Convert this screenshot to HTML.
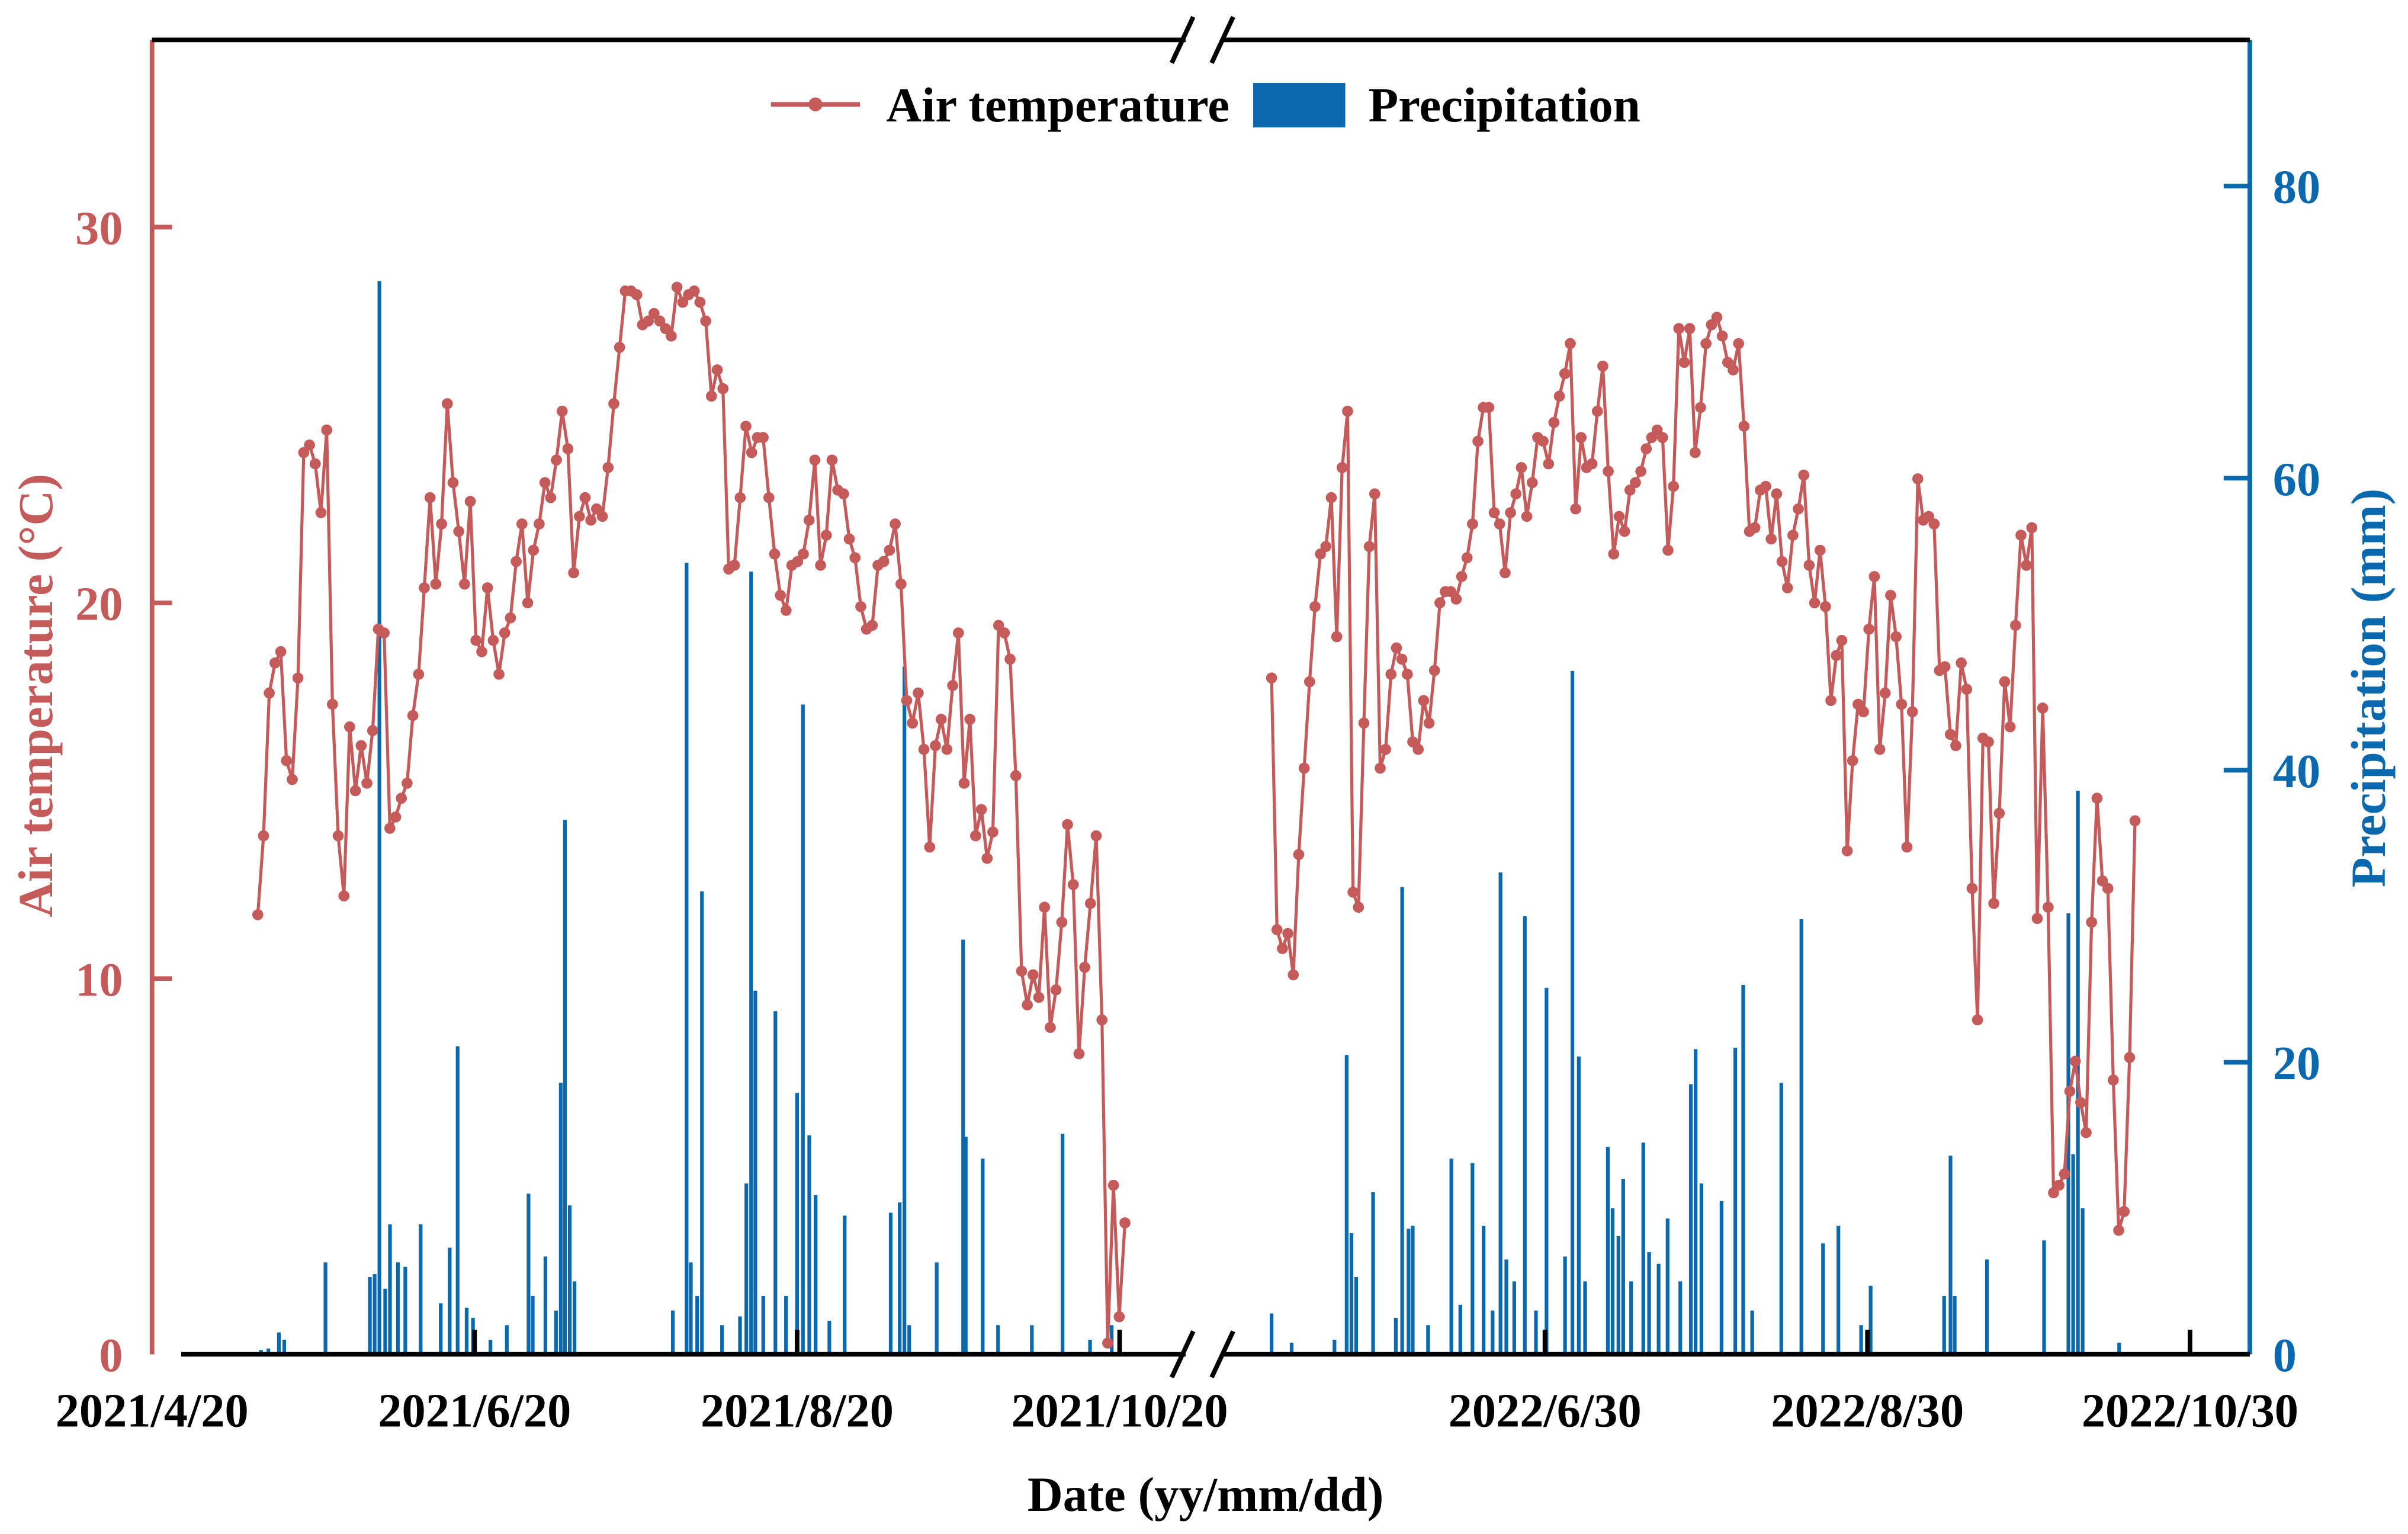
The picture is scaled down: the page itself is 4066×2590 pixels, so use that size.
<!DOCTYPE html>
<html><head><meta charset="utf-8"><style>
html,body{margin:0;padding:0;background:#fff;}
svg{display:block;}
text{font-family:"Liberation Serif",serif;font-weight:bold;}
</style></head><body>
<svg id="chart" width="4066" height="2590" viewBox="0 0 1568 999" preserveAspectRatio="none" xmlns="http://www.w3.org/2000/svg">
<g id="bars"></g>
<g id="lines"></g>
<g id="axes"></g>
</svg>
<script>
// ---- data ----
const tempTicks = [0, 10, 20, 30];
const precipTicks = [0, 20, 40, 60, 80];
const dateLabels2021 = ["2021/4/20", "2021/6/20", "2021/8/20", "2021/10/20"];
const dateDays2021 = [0, 61, 122, 183];
const dateLabels2022 = ["2022/6/30", "2022/8/30", "2022/10/30"];
const dateDays2022 = [0, 61, 122];
const tempStart2021 = 20, tempEnd2021 = 184;
const temp2021 = [11.7,13.8,17.6,18.4,18.7,15.8,15.3,18,24,24.2,
23.7,22.4,24.6,17.3,13.8,12.2,16.7,15,16.2,15.2,
16.6,19.3,19.2,14,14.3,14.8,15.2,17,18.1,20.4,
22.8,20.5,22.1,25.3,23.2,21.9,20.5,22.7,19,18.7,
20.4,19,18.1,19.2,19.6,21.1,22.1,20,21.4,22.1,
23.2,22.8,23.8,25.1,24.1,20.8,22.3,22.8,22.2,22.5,
22.3,23.6,25.3,26.8,28.3,28.3,28.2,27.4,27.5,27.7,
27.5,27.3,27.1,28.4,28,28.2,28.3,28,27.5,25.5,
26.2,25.7,20.9,21,22.8,24.7,24,24.4,24.4,22.8,
21.3,20.2,19.8,21,21.1,21.3,22.2,23.8,21,21.8,
23.8,23,22.9,21.7,21.2,19.9,19.3,19.4,21,21.1,
21.4,22.1,20.5,17.4,16.8,17.6,16.1,13.5,16.2,16.9,
16.1,17.8,19.2,15.2,16.9,13.8,14.5,13.2,13.9,19.4,
19.2,18.5,15.4,10.2,9.3,10.1,9.5,11.9,8.7,9.7,
11.5,14.1,12.5,8,10.3,12,13.8,8.9,0.3,4.5,1.0,3.5];
const tempStart2022 = -51.7, tempEnd2022 = 111.6;
const temp2022 = [18,11.3,10.8,11.2,10.1,13.3,15.6,17.9,19.9,21.3,21.5,22.8,19.1,23.6,25.1,12.3,11.9,16.8,21.5,22.9,
15.6,16.1,18.1,18.8,18.5,18.1,16.3,16.1,17.4,16.8,18.2,20,20.3,20.3,20.1,20.7,21.2,22.1,24.3,25.2,
25.2,22.4,22.1,20.8,22.4,22.9,23.6,22.3,23.2,24.4,24.3,23.7,24.8,25.5,26.1,26.9,22.5,24.4,23.6,23.7,
25.1,26.3,23.5,21.3,22.3,21.9,23,23.2,23.5,24.1,24.4,24.6,24.4,21.4,23.1,27.3,26.4,27.3,24,25.2,
26.9,27.4,27.6,27.1,26.4,26.2,26.9,24.7,21.9,22,23,23.1,21.7,22.9,21.1,20.4,21.8,22.5,23.4,21,
20,21.4,19.9,17.4,18.6,19,13.4,15.8,17.3,17.1,19.3,20.7,16.1,17.6,20.2,19.1,17.3,13.5,17.1,23.3,
22.2,22.3,22.1,18.2,18.3,16.5,16.2,18.4,17.7,12.4,8.9,16.4,16.3,12,14.4,17.9,16.7,19.4,21.8,21,
22,11.6,17.2,11.9,4.3,4.5,4.8,7,7.8,6.7,5.9,11.5,14.8,12.6,12.4,7.3,3.3,3.8,7.9,14.2];
const rainDays2021 = [20.6,22,24,25,32.8,41.2,42.1,43.0,44.1,45.0,46.5,47.9,50.8,54.6,56.3,57.8,59.5,60.7,64,67.1,71.2,72.0,74.4,76.4,77.3,78.1,79.0,79.9,98.5,101.1,101.9,103.1,104.0,107.8,111.2,112.4,113.3,114.1,115.6,117.9,119.9,122.0,123.1,124.3,125.5,128.1,131.0,139.7,141.4,142.3,143.2,148.4,153.4,153.9,157.1,160.0,166.4,172.2,177.4,181.5];
const rainVals2021 = [0.3,0.4,1.5,1,6.3,5.3,5.5,73.5,4.5,8.9,6.3,6,8.9,3.5,7.3,21.1,3.2,2.5,1,2,11,4,6.7,3,18.6,36.6,10.2,5,3,54.2,6.3,4,31.7,2,2.6,11.7,53.6,24.9,4,23.5,4,17.9,44.5,15,10.9,2.3,9.5,9.7,10.4,47.1,2,6.3,28.4,14.9,13.4,2,2,15.1,1,2];
const rainDays2022 = [-51.7,-47.9,-39.8,-37.5,-36.6,-35.7,-32.5,-28.2,-27.0,-25.8,-25.0,-22.1,-17.7,-16.0,-13.7,-11.6,-9.9,-8.4,-7.3,-5.8,-3.8,-1.7,0.3,3.8,5.2,6.4,7.6,11.9,12.8,13.9,14.8,16.3,18.6,19.7,21.5,23.2,25.6,27.6,28.5,29.6,33.4,36.0,37.5,39.2,44.7,48.5,52.6,55.5,59.8,61.6,75.5,76.7,77.5,83.6,94.4,99.0,99.9,100.8,101.7,108.6];
const rainVals2022 = [2.8,0.8,1,20.5,8.3,5.3,11.1,2.5,32,8.6,8.8,2,13.4,3.4,13.1,8.8,3,33,6.5,5,30,3,25.1,6.7,46.8,20.4,5,14.2,10,8.1,12,5,14.5,7,6.2,9.3,5,18.5,20.9,11.7,10.5,21,25.3,3,18.6,29.8,7.6,8.8,2,4.7,4,13.6,4,6.5,7.8,30.2,13.7,38.6,10,0.8];

// ---- scales ----
const X0_2021 = 99, X0_2022 = 1006, DAYPX = 3.443;
const yT = v => 882 - v * 24.47;
const yP = v => 882 - v * 9.51;
const x21 = d => X0_2021 + d * DAYPX;
const x22 = d => X0_2022 + d * DAYPX;
const NS = "http://www.w3.org/2000/svg";
const RED = "#c55a5a", BLUE = "#0a69ae";
function mk(tag, attrs, parent, txt) {
  const e = document.createElementNS(NS, tag);
  for (const k in attrs) e.setAttribute(k, attrs[k]);
  if (txt !== undefined) e.textContent = txt;
  parent.appendChild(e);
  return e;
}
const bars = document.getElementById('bars');
const lines = document.getElementById('lines');
const axes = document.getElementById('axes');

function drawBars(days, vals, xf, tag) {
  days.forEach((d, i) => {
    const y = yP(vals[i]);
    const r = mk('rect', {x: xf(d) - 1.2, y: y, width: 2.4, height: 882 - y, fill: BLUE}, bars);
    
    
  });
}
drawBars(rainDays2021, rainVals2021, x21, '2021');
drawBars(rainDays2022, rainVals2022, x22, '2022');

function drawTemp(vals, s, e, xf, tag) {
  const step = (e - s) / (vals.length - 1);
  const pts = vals.map((v, i) => [xf(s + i * step), yT(v)]);
  const pl = mk('polyline', {points: pts.map(p => p.join(',')).join(' '), fill: 'none', stroke: RED, 'stroke-width': 2}, lines);
  
  
  pts.forEach((p, i) => {
    const c = mk('circle', {cx: p[0], cy: p[1], r: 3.6, fill: RED}, lines);
    
    
  });
}
drawTemp(temp2021, tempStart2021, tempEnd2021, x21, '2021');
drawTemp(temp2022, tempStart2022, tempEnd2022, x22, '2022');

let e;
e = mk('line', {x1: 99, y1: 26, x2: 99, y2: 882, stroke: RED, 'stroke-width': 3}, axes);
 
e = mk('line', {x1: 1465, y1: 26, x2: 1465, y2: 882, stroke: BLUE, 'stroke-width': 3}, axes);
 
e = mk('line', {x1: 99, y1: 26, x2: 1465, y2: 26, stroke: '#000', 'stroke-width': 3}, axes);
 
e = mk('line', {x1: 118, y1: 882, x2: 1465, y2: 882, stroke: '#000', 'stroke-width': 3}, axes);
 
[[26], [882]].forEach((yy, k) => {
  const y = yy[0];
  mk('rect', {x: 772, y: y - 4, width: 24, height: 8, fill: '#fff'}, axes);
  const g = mk('g', {}, axes);
  
  
  mk('line', {x1: 763, y1: y + 15, x2: 777, y2: y - 15, stroke: '#000', 'stroke-width': 3}, g);
  mk('line', {x1: 789, y1: y + 15, x2: 803, y2: y - 15, stroke: '#000', 'stroke-width': 3}, g);
});

tempTicks.forEach(v => {
  const y = yT(v);
  if (v > 0) mk('line', {x1: 99, y1: y, x2: 112, y2: y, stroke: RED, 'stroke-width': 3}, axes);
  const t = mk('text', {x: 80, y: y + 11, 'text-anchor': 'end', 'font-size': 31, fill: RED}, axes, String(v));
  
  
});
precipTicks.forEach(v => {
  const y = yP(v);
  if (v > 0) mk('line', {x1: 1448, y1: y, x2: 1465, y2: y, stroke: BLUE, 'stroke-width': 3}, axes);
  const t = mk('text', {x: 1480, y: y + 11, 'text-anchor': 'start', 'font-size': 31, fill: BLUE}, axes, String(v));
  
  
});
function xTicks(days, labels, xf, tag) {
  days.forEach((d, i) => {
    const x = xf(d);
    if (x > 110) mk('line', {x1: x, y1: 866, x2: x, y2: 882, stroke: '#000', 'stroke-width': 3}, axes);
    const t = mk('text', {x: x, y: 929, 'text-anchor': 'middle', 'font-size': 31, fill: '#000'}, axes, labels[i]);
    
    
  });
}
xTicks(dateDays2021, dateLabels2021, x21, '2021');
xTicks(dateDays2022, dateLabels2022, x22, '2022');

e = mk('text', {x: 785, y: 984, 'text-anchor': 'middle', 'font-size': 32, fill: '#000'}, axes, 'Date (yy/mm/dd)');
 
e = mk('text', {x: 0, y: 0, 'text-anchor': 'middle', 'font-size': 32, fill: RED, transform: 'translate(34,453) rotate(-90)'}, axes, 'Air temperature (°C)');
 
e = mk('text', {x: 0, y: 0, 'text-anchor': 'middle', 'font-size': 32, fill: BLUE, transform: 'translate(1553,448) rotate(-90)'}, axes, 'Precipitation (mm)');
 

const lg = mk('g', {}, axes);
 
mk('line', {x1: 502, y1: 68, x2: 560, y2: 68, stroke: RED, 'stroke-width': 3}, lg);
mk('circle', {cx: 531, cy: 68, r: 4.5, fill: RED}, lg);
e = mk('text', {x: 577, y: 79, 'font-size': 32, fill: '#000'}, lg, 'Air temperature');
 
mk('rect', {x: 816, y: 54, width: 60, height: 29, fill: BLUE}, lg);
e = mk('text', {x: 891, y: 79, 'font-size': 32, fill: '#000'}, lg, 'Precipitation');
 
</script>
</body></html>
